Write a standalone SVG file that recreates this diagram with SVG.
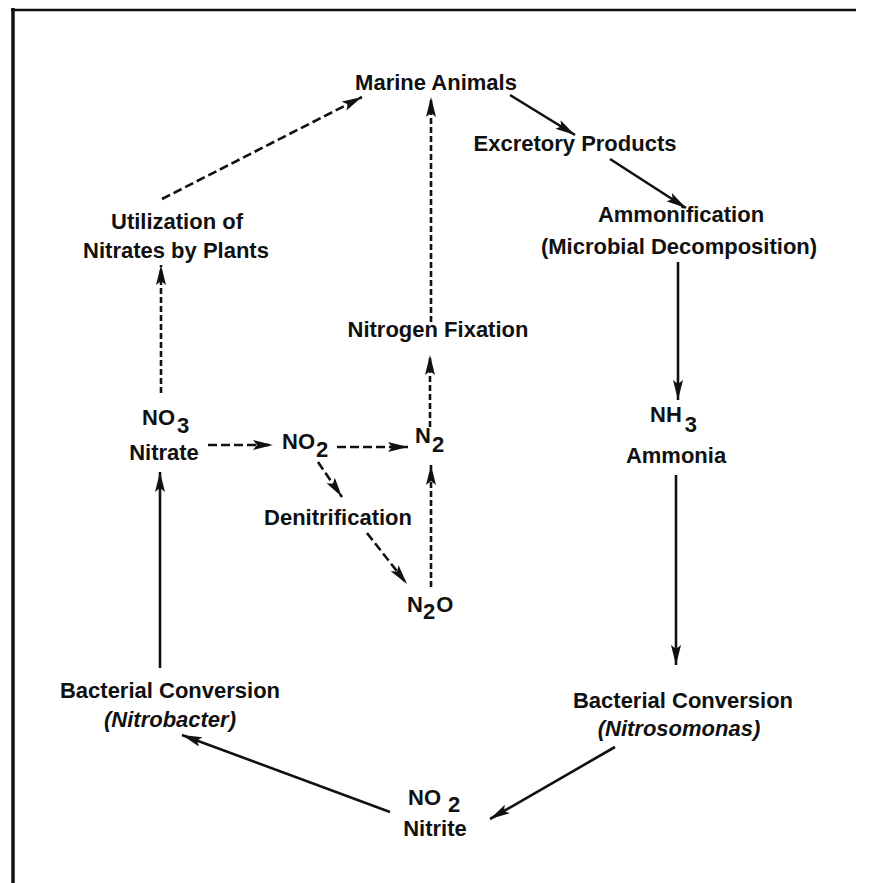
<svg xmlns="http://www.w3.org/2000/svg" width="869" height="883" viewBox="0 0 869 883">
<style>
text{font-family:"Liberation Sans",Arial,sans-serif;font-weight:bold;font-size:22px;fill:#111;}
.c{text-anchor:middle;}
.it{font-style:italic;}
.ln{fill:none;stroke:#111;stroke-width:2.6;}
.d1{stroke-dasharray:9 4;}
.d2{stroke-dasharray:6 3;}
.border{fill:none;stroke:#111;}
</style>
<defs>
<marker id="ah" markerUnits="userSpaceOnUse" markerWidth="22" markerHeight="12" refX="20" refY="5" orient="auto">
<path d="M0,0 L20,5 L0,10 L4,5 z" fill="#111"/>
</marker>
</defs>
<rect width="869" height="883" fill="#fff"/>
<g id="frame">
<line class="border" x1="13" y1="8" x2="13" y2="883" stroke-width="3.5"/>
<line class="border" x1="11" y1="10" x2="856" y2="10" stroke-width="2.5"/>
</g>
<g id="connectors">
<path class="ln d1" d="M162,199 L362,97" marker-end="url(#ah)"/>
<path class="ln d2" d="M431,322 L431,97" marker-end="url(#ah)"/>
<path class="ln" d="M510,95 L575,135" marker-end="url(#ah)"/>
<path class="ln" d="M610,159 L686,208" marker-end="url(#ah)"/>
<path class="ln" d="M678,262 L678,400" marker-end="url(#ah)"/>
<path class="ln" d="M676,475 L676,665" marker-end="url(#ah)"/>
<path class="ln" d="M615,747 L490,819" marker-end="url(#ah)"/>
<path class="ln" d="M390,812 L182,735" marker-end="url(#ah)"/>
<path class="ln" d="M160,668 L160,472" marker-end="url(#ah)"/>
<path class="ln d2" d="M161,393 L161,265" marker-end="url(#ah)"/>
<path class="ln d1" d="M208,445 L273,445" marker-end="url(#ah)"/>
<path class="ln d1" d="M337,447 L408,447" marker-end="url(#ah)"/>
<path class="ln d2" d="M430,427 L430,355" marker-end="url(#ah)"/>
<path class="ln d1" d="M318,462 L342,497" marker-end="url(#ah)"/>
<path class="ln d1" d="M367,533 L407,584" marker-end="url(#ah)"/>
<path class="ln d2" d="M431,587 L431,465" marker-end="url(#ah)"/>
</g>
<g id="marine-animals"><text class="c" x="436" y="90">Marine Animals</text></g>
<g id="excretory-products"><text class="c" x="575" y="151">Excretory Products</text></g>
<g id="ammonification"><text class="c" x="681" y="222">Ammonification</text><text class="c" x="679" y="254">(Microbial Decomposition)</text></g>
<g id="utilization"><text class="c" x="177" y="229">Utilization of</text><text class="c" x="176" y="258">Nitrates by Plants</text></g>
<g id="nitrogen-fixation"><text class="c" x="438" y="337">Nitrogen Fixation</text></g>
<g id="nitrate"><text x="142" y="425">NO<tspan dx="2" dy="8">3</tspan></text><text class="c" x="164" y="460">Nitrate</text></g>
<g id="no2-mid"><text x="282" y="449">NO<tspan dx="1" dy="8">2</tspan></text></g>
<g id="n2"><text x="415" y="443">N<tspan dx="1" dy="9">2</tspan></text></g>
<g id="denitrification"><text class="c" x="338" y="525">Denitrification</text></g>
<g id="n2o"><text x="407" y="612">N<tspan dy="7">2</tspan><tspan dx="1" dy="-7">O</tspan></text></g>
<g id="ammonia"><text x="650" y="422">NH<tspan dx="3" dy="10">3</tspan></text><text class="c" x="676" y="463">Ammonia</text></g>
<g id="nitrobacter"><text class="c" x="170" y="698">Bacterial Conversion</text><text class="c it" x="170" y="727">(Nitrobacter)</text></g>
<g id="nitrosomonas"><text class="c" x="683" y="708">Bacterial Conversion</text><text class="c it" x="679" y="736">(Nitrosomonas)</text></g>
<g id="nitrite"><text x="408" y="805">NO<tspan dx="7" dy="7">2</tspan></text><text class="c" x="435" y="836">Nitrite</text></g>
</svg>
